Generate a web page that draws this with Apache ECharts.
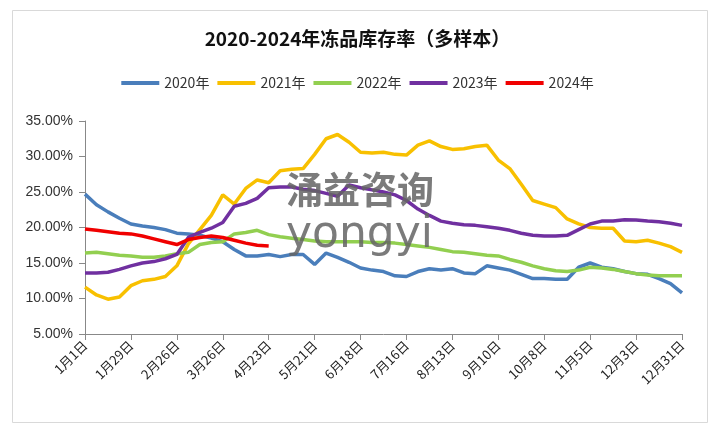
<!DOCTYPE html>
<html>
<head>
<meta charset="utf-8">
<script src="https://cdn.jsdelivr.net/npm/echarts@6/dist/echarts.min.js"></script>
<style>
  html, body { margin: 0; padding: 0; background: #fff; }
  #chart { width: 715px; height: 424px; }
</style>
</head>
<body>
<div id="chart"></div>
<script>
// 周度日期（每周一个点）
var weeks = ['1月1日', '1月8日', '1月15日', '1月22日', '1月29日', '2月5日', '2月12日', '2月19日', '2月26日',
  '3月5日', '3月12日', '3月19日', '3月26日', '4月2日', '4月9日', '4月16日', '4月23日', '4月30日',
  '5月7日', '5月14日', '5月21日', '5月28日', '6月4日', '6月11日', '6月18日', '6月25日',
  '7月2日', '7月9日', '7月16日', '7月23日', '7月30日', '8月6日', '8月13日', '8月20日', '8月27日',
  '9月3日', '9月10日', '9月17日', '9月24日', '10月1日', '10月8日', '10月15日', '10月22日', '10月29日',
  '11月5日', '11月12日', '11月19日', '11月26日', '12月3日', '12月10日', '12月17日', '12月24日', '12月31日'];

// 库存率 %
var y2020 = [24.7, 23.2, 22.2, 21.3, 20.5, 20.2, 20.0, 19.7, 19.2, 19.1, 18.9, 18.5, 18.0, 16.9, 16.0, 16.0,
  16.2, 15.9, 16.2, 16.2, 14.8, 16.4, 15.8, 15.1, 14.3, 14.0, 13.8, 13.2, 13.1, 13.8, 14.2, 14.0, 14.2,
  13.6, 13.5, 14.6, 14.3, 14.0, 13.4, 12.8, 12.8, 12.7, 12.7, 14.4, 15.0, 14.4, 14.2, 13.8, 13.5, 13.4,
  12.8, 12.1, 10.8];
var y2021 = [11.6, 10.5, 9.9, 10.2, 11.8, 12.5, 12.7, 13.1, 14.6, 17.7, 19.7, 21.7, 24.6, 23.3, 25.5, 26.7,
  26.3, 28.0, 28.2, 28.3, 30.3, 32.5, 33.1, 32.0, 30.6, 30.5, 30.6, 30.3, 30.2, 31.6, 32.2, 31.4, 31.0,
  31.1, 31.4, 31.6, 29.5, 28.3, 26.1, 23.8, 23.3, 22.8, 21.2, 20.5, 20.0, 19.9, 19.9, 18.1, 18.0, 18.2,
  17.8, 17.3, 16.5];
var y2022 = [16.4, 16.5, 16.3, 16.1, 16.0, 15.8, 15.8, 16.0, 16.3, 16.5, 17.6, 17.9, 18.0, 19.1, 19.3, 19.6,
  19.0, 18.7, 18.5, 18.3, 18.1, 18.0, 18.0, 18.0, 18.0, 17.9, 17.9, 17.8, 17.6, 17.4, 17.2, 16.9, 16.6,
  16.5, 16.3, 16.1, 16.0, 15.5, 15.1, 14.6, 14.2, 13.9, 13.8, 14.0, 14.4, 14.3, 14.1, 13.8, 13.5, 13.3,
  13.2, 13.2, 13.2];
var y2023 = [13.6, 13.6, 13.7, 14.1, 14.6, 15.0, 15.2, 15.6, 16.2, 18.6, 19.3, 19.9, 20.7, 23.0, 23.4, 24.1,
  25.6, 25.7, 25.7, 25.4, 25.2, 24.8, 24.4, 26.0, 25.6, 25.3, 25.0, 24.6, 23.8, 22.6, 21.7, 20.9, 20.6,
  20.4, 20.3, 20.1, 19.9, 19.6, 19.2, 18.9, 18.8, 18.8, 18.9, 19.7, 20.5, 20.9, 20.9, 21.1, 21.05, 20.9,
  20.8, 20.6, 20.3];
var y2024 = [19.8, 19.6, 19.4, 19.2, 19.1, 18.8, 18.4, 18.0, 17.6, 18.3, 18.6, 18.8, 18.6, 18.2, 17.8, 17.5, 17.4];

var names = ['2020年', '2021年', '2022年', '2023年', '2024年'];
var colors = ['#4a7ebb', '#f8c000', '#92cf50', '#7030a0', '#f00000'];
var values = [y2020, y2021, y2022, y2023, y2024];

var chart = echarts.init(document.getElementById('chart'));

var option = {
  backgroundColor: '#fff',
  animation: false,
  title: {
    text: '2020-2024年冻品库存率（多样本）',
    left: 'center',
    top: 24,
    textStyle: {
      fontFamily: 'Noto Sans CJK SC',
      fontSize: 19,
      fontWeight: 'bold',
      color: '#111'
    }
  },
  legend: {
    top: 71,
    left: 'center',
    itemWidth: 38,
    itemHeight: 4,
    itemGap: 8,
    icon: 'rect',
    data: names,
    textStyle: {
      fontFamily: 'Noto Sans CJK SC',
      fontSize: 14,
      color: '#333'
    }
  },
  grid: {
    left: 85,
    right: 33,
    top: 121,
    bottom: 90
  },
  xAxis: {
    type: 'category',
    data: weeks,
    boundaryGap: false,
    axisLine: { lineStyle: { color: '#888', width: 1 } },
    axisTick: { interval: 3, length: 6, lineStyle: { color: '#888' } },
    axisLabel: {
      interval: 3,
      rotate: 45,
      margin: 9,
      fontFamily: 'Noto Sans CJK SC',
      fontSize: 13,
      color: '#222'
    },
    splitLine: { show: false }
  },
  yAxis: {
    type: 'value',
    min: 5,
    max: 35,
    interval: 5,
    axisLine: { show: true, lineStyle: { color: '#888', width: 1 } },
    axisTick: { show: true, length: 6, lineStyle: { color: '#888' } },
    axisLabel: {
      margin: 12,
      fontFamily: 'Liberation Sans',
      fontSize: 14,
      color: '#333',
      formatter: function (v) { return v.toFixed(2) + '%'; }
    },
    splitLine: { show: false }
  },
  graphic: [
    {
      type: 'rect',
      left: 10,
      top: 8,
      shape: { width: 695, height: 412 },
      style: { fill: 'none', stroke: '#d9d9d9', lineWidth: 1 },
      silent: true,
      z: -1
    },
    {
      type: 'text',
      left: 286,
      top: 171,
      z: 100,
      style: {
        text: '涌益咨询',
        font: 'bold 37px "Noto Sans CJK SC"',
        fill: 'rgba(100,100,100,0.85)'
      }
    },
    {
      type: 'text',
      left: 286,
      top: 214,
      z: 100,
      style: {
        text: 'yongyi',
        font: '44px "DejaVu Sans"',
        fill: 'rgba(100,100,100,0.85)'
      }
    }
  ],
  series: names.map(function (n, i) {
    return {
      name: n,
      type: 'line',
      data: values[i],
      symbol: 'none',
      smooth: false,
      lineStyle: { color: colors[i], width: 3.5 },
      itemStyle: { color: colors[i] }
    };
  })
};

chart.setOption(option);
window.addEventListener('resize', chart.resize);
</script>
</body>
</html>
